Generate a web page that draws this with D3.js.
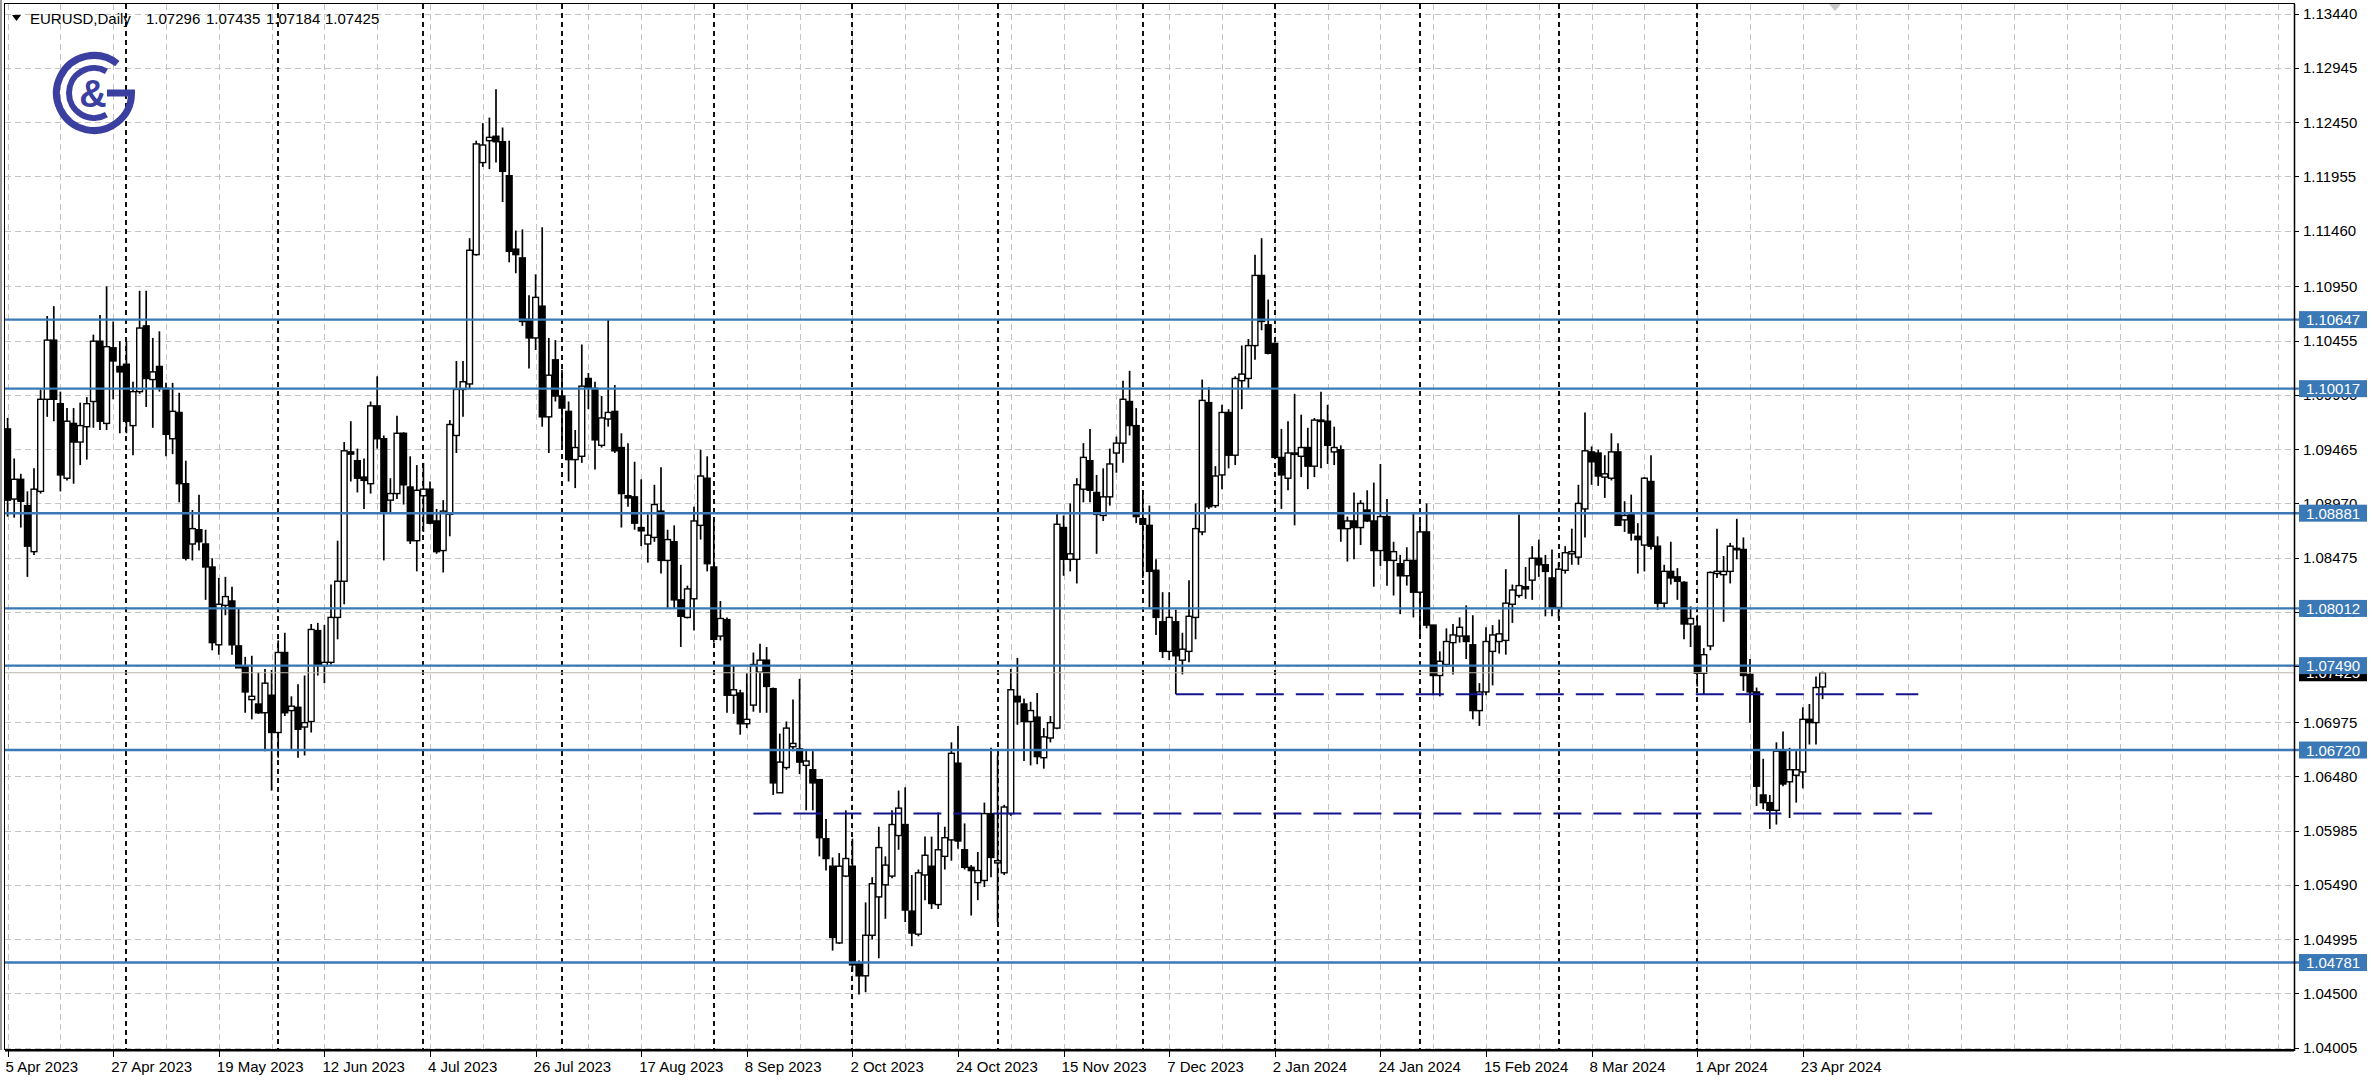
<!DOCTYPE html>
<html><head><meta charset="utf-8">
<script src="https://cdn.jsdelivr.net/npm/d3@7"></script>
<style>body{margin:0;background:#fff;overflow:hidden}svg{display:block}text{font-family:"Liberation Sans",Arial,sans-serif}</style>
</head><body>
<svg id="chart" width="2372" height="1089"></svg>
<script>
// ---------------- data (EURUSD daily) ----------------
const symbol = "EURUSD,Daily";
const startDate = "2023-04-05";
const holidays = ["2023-12-25", "2024-01-01"];

const opens = [
1.0965,1.0901,1.0919,1.0895,1.0853,1.0908,1.0992,1.1046,1.0988,1.0920,
1.0970,1.0953,1.0967,1.0990,1.1045,1.0970,1.1039,1.1022,1.1024,1.0968,
1.0999,1.1059,1.1010,1.1022,1.1002,1.0956,1.0980,1.0915,1.0860,1.0873,
1.0860,1.0839,1.0768,1.0804,1.0808,1.0767,1.0748,1.0718,1.0714,1.0706,
1.0722,1.0688,1.0761,1.0708,1.0711,1.0693,1.0698,1.0781,1.0749,1.0752,
1.0793,1.0826,1.0944,1.0936,1.0921,1.0915,1.0986,1.0956,1.0900,1.0906,
1.0961,1.0912,1.0863,1.0904,1.0910,1.0881,1.0854,1.0887,1.0959,1.1001,
1.1006,1.1124,1.1208,1.1228,1.1232,1.1227,1.1196,1.1129,1.1121,1.1065,
1.1048,1.1077,1.0976,1.1028,1.0995,1.0981,1.0937,1.0940,1.1011,1.1002,
1.0950,1.0974,1.0981,1.0948,1.0904,1.0903,1.0875,1.0860,1.0866,1.0890,
1.0845,1.0862,1.0809,1.0793,1.0810,1.0877,1.0920,1.0839,1.0776,1.0791,
1.0722,1.0724,1.0696,1.0713,1.0743,1.0754,1.0728,1.0633,1.0656,1.0675,
1.0673,1.0658,1.0654,1.0645,1.0591,1.0566,1.0496,1.0557,1.0566,1.0477,
1.0466,1.0503,1.0538,1.0549,1.0557,1.0594,1.0604,1.0525,1.0504,1.0558,
1.0566,1.0531,1.0575,1.0590,1.0660,1.0581,1.0565,1.0551,1.0553,1.0614,
1.0569,1.0560,1.0614,1.0721,1.0714,1.0698,1.0702,1.0665,1.0683,1.0692,
1.0875,1.0846,1.0846,1.0910,1.0936,1.0907,1.0886,1.0903,1.0943,1.0952,
1.0990,1.0968,1.0883,1.0877,1.0836,1.0789,1.0762,1.0789,1.0754,1.0762,
1.0793,1.0871,1.0989,1.0895,1.0923,1.0980,1.0941,1.1009,1.1011,1.1041,
1.1105,1.1060,1.1043,1.0939,1.0920,1.0942,1.0940,1.0948,1.0931,1.0972,
1.0972,1.0944,1.0946,1.0874,1.0881,1.0875,1.0891,1.0881,1.0854,1.0885,
1.0845,1.0842,1.0831,1.0845,1.0816,1.0871,1.0786,1.0740,1.0750,1.0770,
1.0776,1.0776,1.0768,1.0708,1.0725,1.0762,1.0771,1.0772,1.0805,1.0813,
1.0821,1.0827,1.0847,1.0841,1.0829,1.0802,1.0836,1.0851,1.0848,1.0892,
1.0944,1.0943,1.0921,1.0920,1.0944,1.0882,1.0888,1.0867,1.0859,1.0917,
1.0858,1.0806,1.0835,1.0830,1.0825,1.0787,1.0785,1.0742,1.0767,1.0833,
1.0832,1.0835,1.0855,1.0855,1.0741,1.0725,1.0631,1.0624,1.0617,1.0671,
1.0643,1.0649,1.0652,1.0700,1.0697,1.07296];

const highs = [
1.0975,1.0938,1.0924,1.0908,1.0929,1.1001,1.1068,1.1077,1.0999,1.0984,
1.0984,1.0989,1.0994,1.1051,1.1069,1.1095,1.1063,1.1045,1.1045,1.1008,
1.1091,1.1091,1.1048,1.1054,1.1007,1.1007,1.0998,1.0936,1.0891,1.0905,
1.0873,1.0847,1.0829,1.0830,1.0821,1.0801,1.0757,1.0758,1.0743,1.0746,
1.0745,1.0772,1.0779,1.0721,1.0732,1.0740,1.0787,1.0788,1.0786,1.0823,
1.0863,1.0953,1.0972,1.0947,1.0938,1.0990,1.1013,1.0959,1.0920,1.0977,
1.0962,1.0940,1.0932,1.0934,1.0917,1.0892,1.0900,1.0973,1.1027,1.1027,
1.1139,1.1228,1.1244,1.1249,1.1275,1.1240,1.1228,1.1146,1.1147,1.1087,
1.1106,1.1149,1.1048,1.1046,1.1019,1.0990,1.0964,1.1042,1.1016,1.1008,
1.0995,1.1065,1.1005,1.0961,1.0952,1.0935,1.0919,1.0887,1.0914,1.0930,
1.0873,1.0877,1.0841,1.0822,1.0894,1.0946,1.0940,1.0882,1.0808,1.0793,
1.0749,1.0727,1.0742,1.0761,1.0769,1.0766,1.0729,1.0687,1.0698,1.0718,
1.0737,1.0673,1.0671,1.0645,1.0609,1.0574,1.0578,1.0617,1.0591,1.0480,
1.0533,1.0556,1.0602,1.0575,1.0617,1.0635,1.0638,1.0558,1.0563,1.0593,
1.0593,1.0615,1.0602,1.0679,1.0694,1.0605,1.0567,1.0579,1.0624,1.0674,
1.0667,1.0622,1.0746,1.0756,1.0719,1.0716,1.0724,1.0692,1.0703,1.0889,
1.0886,1.0897,1.0920,1.0952,1.0965,1.0923,1.0929,1.0947,1.0958,1.1009,
1.1018,1.0984,1.0905,1.0895,1.0846,1.0816,1.0816,1.0800,1.0779,1.0827,
1.0897,1.1010,1.1003,1.0931,1.0987,1.0983,1.1013,1.1041,1.1047,1.1124,
1.1139,1.1083,1.1044,1.0965,1.0972,1.0997,1.0978,1.0966,1.0975,1.0999,
1.0987,1.0967,1.0950,1.0885,1.0907,1.0900,1.0909,1.0916,1.0933,1.0901,
1.0862,1.0850,1.0857,1.0888,1.0881,1.0897,1.0786,1.0762,1.0783,1.0787,
1.0793,1.0804,1.0795,1.0733,1.0784,1.0786,1.0791,1.0837,1.0823,1.0887,
1.0839,1.0858,1.0864,1.0850,1.0855,1.0843,1.0858,1.0874,1.0914,1.0980,
1.0949,1.0946,1.0941,1.0961,1.0952,1.0899,1.0905,1.0879,1.0921,1.0941,
1.0867,1.0841,1.0862,1.0838,1.0826,1.0803,1.0795,1.0765,1.0835,1.0874,
1.0849,1.0861,1.0883,1.0866,1.0755,1.0729,1.0664,1.0631,1.0679,1.0689,
1.0674,1.0671,1.0711,1.0714,1.0739,1.07435];

const lows = [
1.0885,1.0884,1.0875,1.0830,1.0850,1.0906,1.0976,1.0972,1.0908,1.0918,
1.0915,1.0932,1.0937,1.0966,1.0964,1.0964,1.0992,1.0961,1.0961,1.0941,
1.0997,1.0985,1.0966,1.0999,1.0940,1.0942,1.0898,1.0845,1.0845,1.0854,
1.0809,1.0763,1.0759,1.0795,1.0759,1.0747,1.0706,1.0700,1.0705,1.0671,
1.0635,1.0665,1.0703,1.0673,1.0665,1.0667,1.0688,1.0740,1.0733,1.0750,
1.0773,1.0805,1.0917,1.0907,1.0892,1.0906,1.0947,1.0845,1.0889,1.0901,
1.0896,1.0860,1.0835,1.0871,1.0878,1.0851,1.0834,1.0867,1.0943,1.0976,
1.1001,1.1123,1.1204,1.1202,1.1208,1.1172,1.1117,1.1107,1.1059,1.1020,
1.1037,1.0967,1.0943,1.0990,1.0950,1.0917,1.0911,1.0934,1.0983,1.0928,
1.0948,1.0967,1.0943,1.0875,1.0894,1.0873,1.0858,1.0843,1.0862,1.0833,
1.0801,1.0801,1.0766,1.0792,1.0781,1.0864,1.0835,1.0770,1.0772,1.0706,
1.0705,1.0686,1.0692,1.0707,1.0706,1.0706,1.0631,1.0633,1.0654,1.0671,
1.0650,1.0617,1.0617,1.0575,1.0562,1.0489,1.0495,1.0556,1.0470,1.0449,
1.0451,1.0499,1.0482,1.0518,1.0555,1.0581,1.0515,1.0493,1.0502,1.0535,
1.0527,1.0527,1.0563,1.0571,1.0582,1.0563,1.0521,1.0535,1.0547,1.0556,
1.0515,1.0558,1.0612,1.0695,1.0662,1.0658,1.0659,1.0655,1.0679,1.0691,
1.0831,1.0835,1.0824,1.0898,1.0898,1.0851,1.0881,1.0895,1.0925,1.0934,
1.0959,1.0879,1.0829,1.0802,1.0777,1.0756,1.0754,1.0723,1.0741,1.0752,
1.0773,1.0868,1.0892,1.0893,1.0910,1.0929,1.0932,1.0983,1.1002,1.1028,
1.1055,1.1033,1.0938,1.0892,1.0909,1.0877,1.0921,1.0910,1.0921,1.0929,
1.0933,1.0932,1.0862,1.0844,1.0846,1.0859,1.0880,1.0821,1.0840,1.0822,
1.0813,1.0796,1.0822,1.0793,1.0776,1.0783,1.0722,1.0721,1.0748,1.0741,
1.0770,1.0755,1.0700,1.0694,1.0722,1.0731,1.0760,1.0759,1.0788,1.0811,
1.0810,1.0809,1.0830,1.0794,1.0794,1.0792,1.0833,1.0841,1.0841,1.0866,
1.0914,1.0913,1.0902,1.0918,1.0877,1.0871,1.0863,1.0833,1.0835,1.0855,
1.0800,1.0801,1.0823,1.0809,1.0773,1.0766,1.0730,1.0723,1.0763,1.0829,
1.0789,1.0824,1.0846,1.0726,1.0697,1.0621,1.0618,1.0600,1.0604,1.0639,
1.0610,1.0624,1.0637,1.0677,1.0677,1.07184];

const closes = [
1.0900,1.0919,1.0899,1.0858,1.0910,1.0992,1.1046,1.0992,1.0923,1.0972,
1.0953,1.0968,1.0988,1.1045,1.0972,1.1040,1.1027,1.1017,1.0972,1.0999,
1.1057,1.1011,1.1017,1.1003,1.0960,1.0981,1.0915,1.0847,1.0874,1.0862,
1.0839,1.0770,1.0805,1.0812,1.0768,1.0747,1.0725,1.0721,1.0706,1.0733,
1.0688,1.0761,1.0706,1.0712,1.0691,1.0697,1.0782,1.0750,1.0752,1.0793,
1.0826,1.0945,1.0942,1.0920,1.0918,1.0986,1.0956,1.0889,1.0906,1.0961,
1.0914,1.0863,1.0909,1.0910,1.0879,1.0853,1.0890,1.0969,1.1001,1.1008,
1.1128,1.1225,1.1224,1.1231,1.1227,1.1200,1.1127,1.1124,1.1063,1.1048,
1.1085,1.0976,1.1014,1.0995,1.0984,1.0937,1.0948,1.1004,1.1003,1.0955,
1.0975,1.0980,1.0945,1.0906,1.0902,1.0879,1.0872,1.0868,1.0896,1.0845,
1.0864,1.0809,1.0794,1.0819,1.0881,1.0922,1.0842,1.0773,1.0792,1.0722,
1.0727,1.0696,1.0700,1.0750,1.0754,1.0730,1.0642,1.0661,1.0692,1.0678,
1.0661,1.0662,1.0642,1.0592,1.0573,1.0501,1.0566,1.0573,1.0476,1.0466,
1.0503,1.0550,1.0583,1.0567,1.0604,1.0619,1.0526,1.0505,1.0560,1.0576,
1.0532,1.0581,1.0592,1.0669,1.0589,1.0565,1.0562,1.0562,1.0614,1.0574,
1.0571,1.0620,1.0727,1.0716,1.0698,1.0708,1.0666,1.0684,1.0697,1.0878,
1.0846,1.0851,1.0914,1.0939,1.0909,1.0887,1.0903,1.0933,1.0952,1.0992,
1.0968,1.0885,1.0878,1.0835,1.0793,1.0762,1.0793,1.0758,1.0764,1.0794,
1.0874,1.0991,1.0894,1.0922,1.0980,1.0941,1.1011,1.1015,1.1041,1.1105,
1.1063,1.1034,1.0939,1.0923,1.0943,1.0943,1.0948,1.0931,1.0973,1.0973,
1.0950,1.0948,1.0874,1.0881,1.0875,1.0897,1.0881,1.0854,1.0885,1.0845,
1.0853,1.0831,1.0845,1.0816,1.0871,1.0786,1.0740,1.0753,1.0771,1.0777,
1.0784,1.0771,1.0708,1.0725,1.0771,1.0777,1.0778,1.0806,1.0818,1.0822,
1.0819,1.0847,1.0841,1.0835,1.0802,1.0837,1.0852,1.0853,1.0897,1.0945,
1.0935,1.0922,1.0924,1.0944,1.0877,1.0886,1.0870,1.0864,1.0920,1.0858,
1.0806,1.0835,1.0829,1.0826,1.0787,1.0792,1.0742,1.0759,1.0834,1.0835,
1.0835,1.0858,1.0856,1.0740,1.0725,1.0639,1.0624,1.0617,1.0671,1.0641,
1.0654,1.0654,1.0700,1.0697,1.0729,1.07425];

// price-axis tick labels (1.07485 sits fully under the level tags in the reference, so it has no label)
const priceTicks = [1.13440,1.12945,1.12450,1.11955,1.11460,1.10950,1.10455,1.09960,1.09465,
  1.08970,1.08475,1.07980,1.07485,1.06975,1.06480,1.05985,1.05490,1.04995,1.04500,1.04005];
const hiddenTickLabels = [1.07485];
const levelPrices = [1.10647,1.10017,1.08881,1.08012,1.07490,1.06720,1.04781];
const dashedLevels = [ {price:1.0723, fromBar:177, toBar:289.5}, {price:1.0614, fromBar:113, toBar:291.6} ];
const lastPrice = 1.07425;
const dateTickEvery = 16;
const gridEvery = 8;

// ---------------- layout ----------------
const svg = d3.select("#chart");
const P = {left:5, top:4, right:2294, bottom:1050};
const n = opens.length;
const x = d3.scaleLinear().domain([0, n-1]).range([7.6, 7.6 + 6.6*(n-1)]);
const y = d3.scaleLinear().domain([1.04005, 1.13440]).range([1047.6, 13.5]);
const fmtPrice = d3.format(".5f");
const fmtDate = d3.utcFormat("%-d %b %Y");

const dates = [];
{ let d = new Date(startDate + "T12:00:00Z");
  while (dates.length < n) {
    const wd = d.getUTCDay(), iso = d.toISOString().slice(0,10);
    if (wd !== 0 && wd !== 6 && !holidays.includes(iso)) dates.push(new Date(d));
    d.setUTCDate(d.getUTCDate() + 1);
  } }

svg.append("rect").attr("width",2372).attr("height",1089).attr("fill","#fff");

svg.append("defs").append("clipPath").attr("id","plotclip")
  .append("rect").attr("x",P.left).attr("y",P.top).attr("width",P.right-P.left).attr("height",P.bottom-P.top);
const plot = svg.append("g").attr("clip-path","url(#plotclip)");

// horizontal grid
plot.append("g").selectAll("line").data(priceTicks).join("line")
  .attr("x1",P.left).attr("x2",P.right)
  .attr("y1",d=>Math.round(y(d))+0.5).attr("y2",d=>Math.round(y(d))+0.5)
  .attr("stroke","#c4c4c4").attr("stroke-width",1).attr("stroke-dasharray","6,4");

// vertical grid
const maxIdx = Math.floor(x.invert(P.right));
const gridIdx = d3.range(0, maxIdx+1, gridEvery);
plot.append("g").selectAll("line").data(gridIdx).join("line")
  .attr("x1",d=>Math.round(x(d))+0.5).attr("x2",d=>Math.round(x(d))+0.5)
  .attr("y1",P.top).attr("y2",P.bottom)
  .attr("stroke","#c4c4c4").attr("stroke-width",1).attr("stroke-dasharray","6,4");

// month separators
const sepIdx = d3.range(1,n).filter(i => dates[i].getUTCMonth() !== dates[i-1].getUTCMonth());
plot.append("g").selectAll("line").data(sepIdx).join("line")
  .attr("x1",d=>Math.round(x(d))).attr("x2",d=>Math.round(x(d)))
  .attr("y1",P.top).attr("y2",P.bottom)
  .attr("stroke","#111").attr("stroke-width",2).attr("stroke-dasharray","5,4");

// candles
const bars = d3.range(n).map(i => ({i, o:opens[i], h:highs[i], l:lows[i], c:closes[i]}));
const cg = plot.append("g");
cg.selectAll("line").data(bars).join("line")
  .attr("x1",d=>x(d.i)).attr("x2",d=>x(d.i))
  .attr("y1",d=>y(d.h)).attr("y2",d=>y(d.l))
  .attr("stroke","#000").attr("stroke-width",1.7);
cg.selectAll("rect").data(bars).join("rect")
  .attr("x",d=>x(d.i)-2.9).attr("width",5.8)
  .attr("y",d=>y(Math.max(d.o,d.c)))
  .attr("height",d=>Math.max(1.4, Math.abs(y(d.o)-y(d.c))))
  .attr("fill",d=>d.c >= d.o ? "#fff" : "#000")
  .attr("stroke","#000").attr("stroke-width",1.4);

// bid line
plot.append("line").attr("x1",P.left).attr("x2",P.right)
  .attr("y1",y(lastPrice)).attr("y2",y(lastPrice))
  .attr("stroke","#bdb5ad").attr("stroke-width",1.2);

// horizontal level lines
svg.append("g").selectAll("line").data(levelPrices).join("line")
  .attr("x1",P.left).attr("x2",2300)
  .attr("y1",d=>y(d)).attr("y2",d=>y(d))
  .attr("stroke","#3a78b6").attr("stroke-width",2.4);

// dashed navy levels
plot.append("g").selectAll("line").data(dashedLevels).join("line")
  .attr("x1",d=>x(d.fromBar)).attr("x2",d=>x(d.toBar))
  .attr("y1",d=>y(d.price)).attr("y2",d=>y(d.price))
  .attr("stroke","#14148c").attr("stroke-width",2).attr("stroke-dasharray","28,12");

// frame
svg.append("line").attr("x1",1).attr("x2",1).attr("y1",0).attr("y2",P.bottom).attr("stroke","#999").attr("stroke-width",2);
svg.append("rect").attr("x",P.left-0.5).attr("y",P.top-0.5).attr("width",P.right-P.left+1).attr("height",P.bottom-P.top)
  .attr("fill","none").attr("stroke","#000").attr("stroke-width",1);
svg.append("line").attr("x1",P.left).attr("x2",P.right).attr("y1",P.bottom+0.5).attr("y2",P.bottom+0.5)
  .attr("stroke","#000").attr("stroke-width",2);
svg.append("line").attr("x1",P.right+0.5).attr("x2",P.right+0.5).attr("y1",P.top).attr("y2",P.bottom+1)
  .attr("stroke","#000").attr("stroke-width",1.5);

// chart-shift marker
svg.append("path").attr("d","M1829,4 L1841,4 L1835,11 Z").attr("fill","#c8c8c8");

// price axis
const pa = svg.append("g");
pa.selectAll("line").data(priceTicks).join("line")
  .attr("x1",P.right).attr("x2",P.right+5)
  .attr("y1",d=>Math.round(y(d))+0.5).attr("y2",d=>Math.round(y(d))+0.5)
  .attr("stroke","#000");
pa.selectAll("text").data(priceTicks.filter(t => !hiddenTickLabels.includes(t))).join("text")
  .attr("x",P.right+9).attr("y",d=>y(d)+5.5)
  .attr("font-size",15).attr("fill","#000").text(d=>fmtPrice(d));

function tag(price, fill) {
  const g = svg.append("g");
  g.append("rect").attr("x",P.right+5).attr("y",y(price)-8.5).attr("width",68).attr("height",17).attr("fill",fill);
  g.append("text").attr("x",P.right+39).attr("y",y(price)+5.5).attr("text-anchor","middle")
    .attr("font-size",15).attr("fill","#fff").text(fmtPrice(price));
}
tag(lastPrice, "#000");
levelPrices.forEach(p => tag(p, "#3a78b6"));

// date axis
const dateIdx = d3.range(0, n, dateTickEvery);
const da = svg.append("g");
da.selectAll("line").data(dateIdx).join("line")
  .attr("x1",d=>Math.round(x(d))+0.5).attr("x2",d=>Math.round(x(d))+0.5)
  .attr("y1",P.bottom).attr("y2",P.bottom+7).attr("stroke","#000");
da.selectAll("text").data(dateIdx).join("text")
  .attr("x",d=>x(d)-2).attr("y",1072)
  .attr("font-size",15).attr("fill","#000").text(d=>fmtDate(dates[d]));

// header
svg.append("path").attr("d","M12,15 L21,15 L16.5,21 Z").attr("fill","#000");
const hdr = [symbol, fmtPrice(opens[n-1]), fmtPrice(highs[n-1]), fmtPrice(lows[n-1]), fmtPrice(closes[n-1])];
const hdrX = [30, 146, 206, 266, 325];
svg.append("g").selectAll("text").data(hdr).join("text")
  .attr("x",(d,i)=>hdrX[i]).attr("y",24).attr("font-size",15).attr("fill","#000").text(d=>d);

// logo
const lc = "#3b3f9f", cx = 94, cy = 93;
const lg = svg.append("g");
lg.append("path").attr("d", (() => { const p = d3.path(); p.arc(cx, cy, 37.5, -0.9, 0, true); p.lineTo(cx+13, cy); return p.toString(); })())
  .attr("fill","none").attr("stroke",lc).attr("stroke-width",7);
lg.append("path").attr("d", (() => { const p = d3.path(); p.arc(cx, cy, 25, -1.05, 1.05, true); return p.toString(); })())
  .attr("fill","none").attr("stroke",lc).attr("stroke-width",6);
lg.append("text").attr("x",cx-1).attr("y",cy+14).attr("text-anchor","middle")
  .attr("font-family","DejaVu Sans").attr("font-weight","bold").attr("font-size",38).attr("fill",lc).text("&");
</script>
</body></html>
